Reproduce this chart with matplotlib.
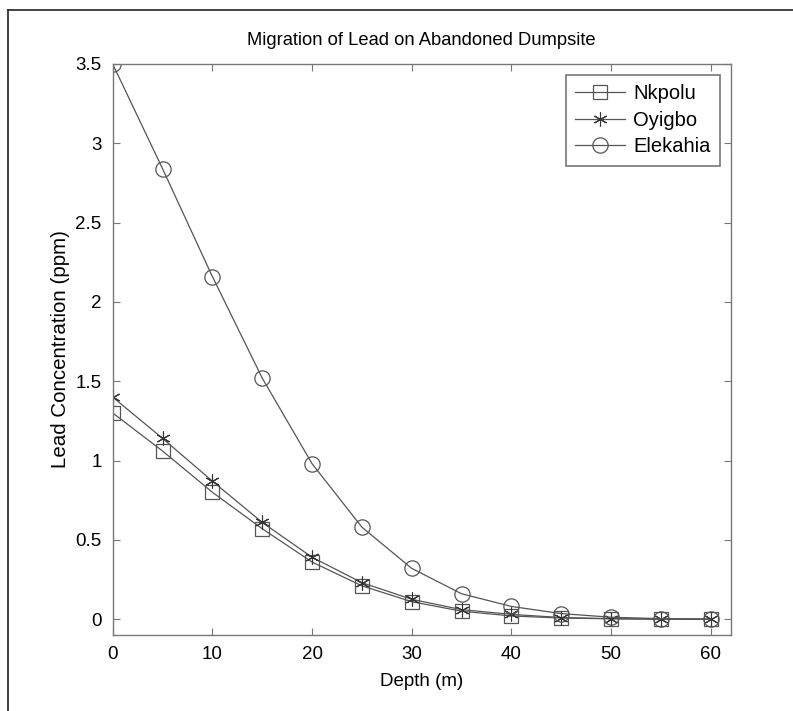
import matplotlib
matplotlib.use("Agg")
import matplotlib.pyplot as plt
from matplotlib.lines import Line2D

plt.rcParams['font.family'] = ['Liberation Sans', 'DejaVu Sans']

depth = [0, 5, 10, 15, 20, 25, 30, 35, 40, 45, 50, 55, 60]
nkpolu = [1.30, 1.06, 0.80, 0.57, 0.36, 0.21, 0.11, 0.05, 0.02, 0.007, 0.002, 0.0, 0.0]
oyigbo = [1.40, 1.14, 0.87, 0.61, 0.39, 0.23, 0.125, 0.06, 0.03, 0.01, 0.003, 0.0, 0.0]
elekahia = [3.50, 2.84, 2.16, 1.52, 0.98, 0.58, 0.32, 0.16, 0.08, 0.035, 0.012, 0.003, 0.0]

xticks = [0, 10, 20, 30, 40, 50, 60]
yticks = [0, 0.5, 1, 1.5, 2, 2.5, 3, 3.5]

fig = plt.figure(figsize=(7.93, 7.11), dpi=100)
ax = fig.add_axes([112.7 / 793, 1 - 635 / 711, (730.7 - 112.7) / 793, (635 - 64) / 711])

lc = '#555555'
ax.plot(depth, nkpolu, color=lc, lw=0.9, marker='s', ms=10, mfc='none', mec=lc, mew=0.9, label='Nkpolu')
ax.plot(depth, oyigbo, color=lc, lw=0.9, marker=(6, 2, 0), ms=10, mec='#333333', mew=0.8, label='Oyigbo')
ax.plot(depth, elekahia, color=lc, lw=0.9, marker='o', ms=11, mfc='none', mec=lc, mew=0.9, label='Elekahia')

ax.set_xlim(0, 62)
ax.set_ylim(-0.1, 3.5)
ax.set_xticks(xticks)
ax.set_yticks(yticks)
ax.set_yticklabels(['0', '0.5', '1', '1.5', '2', '2.5', '3', '3.5'])
ax.tick_params(direction='in', top=True, right=True, length=5, color='#777777', labelsize=13.5, pad=8)
for s in ax.spines.values():
    s.set_color('#777777')
    s.set_linewidth(1.0)

ax.set_xlabel('Depth (m)', fontsize=13.5, labelpad=7)
ax.set_ylabel('Lead Concentration (ppm)', fontsize=14.8, labelpad=4)
ax.set_title('Migration of Lead on Abandoned Dumpsite', fontsize=13.2, pad=14)

leg = ax.legend(loc='upper right', fontsize=14.5, fancybox=False, framealpha=1,
                edgecolor='#777777', handlelength=2.5, borderaxespad=0.55,
                labelspacing=0.38, handletextpad=0.4, borderpad=0.45)
leg.get_frame().set_linewidth(1.2)

# outer frame lines of the original figure window
fig.add_artist(Line2D([7.5 / 793, 1], [1 - 10 / 711, 1 - 10 / 711], color='#222222', lw=1.2))
fig.add_artist(Line2D([7.5 / 793, 7.5 / 793], [0, 1 - 10 / 711], color='#222222', lw=1.2))

fig.savefig('out.png', dpi=100)
